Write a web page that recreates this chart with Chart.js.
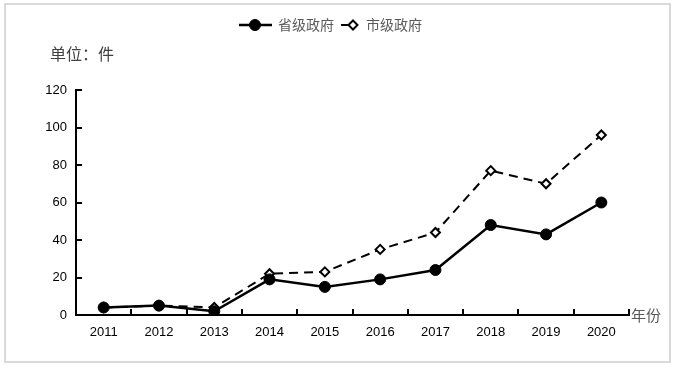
<!DOCTYPE html>
<html>
<head>
<meta charset="utf-8">
<script src="https://cdn.jsdelivr.net/npm/chart.js@4.4.0/dist/chart.umd.min.js"></script>
<style>
body { margin: 0; background: #fff; }
#wrap { position: relative; width: 696px; height: 370px; }
#frame { position: absolute; left: 4px; top: 3px; width: 663px; height: 356px; border: 2px solid #d9d9d9; }
#c { position: absolute; left: 0; top: 0; }
.note { position: absolute; font-family: "Noto Sans CJK SC", sans-serif; white-space: nowrap; }
#unit { left: 50px; top: 41px; font-size: 16px; color: #404040; }
#xname { left: 631px; top: 304px; font-size: 15px; color: #595959; }
</style>
</head>
<body>
<div id="wrap">
  <div id="frame"></div>
  <canvas id="c" width="696" height="370"></canvas>
  <div class="note" id="unit">单位：件</div>
  <div class="note" id="xname">年份</div>
</div>
<script>
// data
var years = ['2011', '2012', '2013', '2014', '2015', '2016', '2017', '2018', '2019', '2020'];
var provincial = [4, 5, 2, 19, 15, 19, 24, 48, 43, 60];
var municipal = [4, 5, 4, 22, 23, 35, 44, 77, 70, 96];
var seriesNames = ['省级政府', '市级政府'];
var yMin = 0, yMax = 120, yStep = 20;

// tick marks pointing into the plot
var tickMarks = {
  id: 'tickMarks',
  afterDraw: function(chart) {
    var ctx = chart.ctx, x = chart.scales.x, y = chart.scales.y;
    ctx.save();
    ctx.strokeStyle = '#000';
    ctx.lineWidth = 2;
    ctx.beginPath();
    y.ticks.forEach(function(t) {
      var py = Math.round(y.getPixelForValue(t.value));
      ctx.moveTo(y.right, py);
      ctx.lineTo(y.right + 6, py);
    });
    var n = years.length, w = (x.right - x.left) / n;
    for (var i = 1; i <= n; i++) {
      var px = Math.round(x.left + i * w);
      ctx.moveTo(px, x.top);
      ctx.lineTo(px, x.top - 6);
    }
    ctx.stroke();
    ctx.restore();
  }
};

// legend: line sample with marker, then name
var lineLegend = {
  id: 'lineLegend',
  afterDraw: function(chart) {
    var ctx = chart.ctx;
    var spots = [{x: 239, len: 33, tx: 278}, {x: 341, len: 22, tx: 366}];
    var cy = 25;
    ctx.save();
    chart.data.datasets.forEach(function(ds, i) {
      var s = spots[i];
      ctx.strokeStyle = '#000';
      ctx.lineWidth = ds.borderWidth;
      ctx.setLineDash(i === 0 ? [] : [7, 16]);
      ctx.beginPath();
      ctx.moveTo(s.x, cy);
      ctx.lineTo(s.x + s.len, cy);
      ctx.stroke();
      ctx.setLineDash([]);
      ctx.fillStyle = ds.pointBackgroundColor;
      ctx.strokeStyle = '#000';
      ctx.lineWidth = ds.pointBorderWidth;
      Chart.helpers.drawPoint(ctx, {pointStyle: ds.pointStyle, radius: ds.pointRadius, borderWidth: ds.pointBorderWidth, rotation: 0},
        s.x + (i === 0 ? 16 : 12), cy);
      ctx.fillStyle = '#595959';
      ctx.font = '14px "Noto Sans CJK SC"';
      ctx.textBaseline = 'middle';
      ctx.fillText(ds.label, s.tx, cy);
    });
    ctx.restore();
  }
};

var ctx = document.getElementById('c');
var myChart = new Chart(ctx, {
  type: 'line',
  data: {
    labels: years,
    datasets: [
      {
        label: seriesNames[0],
        data: provincial,
        borderColor: '#000',
        borderWidth: 2.5,
        pointStyle: 'circle',
        pointRadius: 5.5,
        pointBackgroundColor: '#000',
        pointBorderColor: '#000',
        pointBorderWidth: 1,
        fill: false,
        tension: 0
      },
      {
        label: seriesNames[1],
        data: municipal,
        borderColor: '#000',
        borderWidth: 2,
        borderDash: [9, 6],
        pointStyle: 'rectRot',
        pointRadius: 4.5,
        pointBackgroundColor: '#fff',
        pointBorderColor: '#000',
        pointBorderWidth: 2,
        fill: false,
        tension: 0
      }
    ]
  },
  options: {
    responsive: false,
    animation: false,
    layout: { padding: { top: 90, right: 67, left: 0, bottom: 0 } },
    plugins: { legend: { display: false }, tooltip: { enabled: false } },
    scales: {
      x: {
        type: 'category',
        offset: true,
        grid: { display: false, drawTicks: false },
        border: { display: true, color: '#000', width: 2 },
        ticks: { color: '#000', padding: 10, font: { family: 'Liberation Sans', size: 13 }, maxRotation: 0 },
        afterFit: function(s) { s.height = 55; }
      },
      y: {
        min: yMin,
        max: yMax,
        grid: { display: false, drawTicks: false },
        border: { display: true, color: '#000', width: 2 },
        ticks: { stepSize: yStep, color: '#000', padding: 9, font: { family: 'Liberation Sans', size: 13 } },
        afterFit: function(s) { s.width = 76; }
      }
    }
  },
  plugins: [tickMarks, lineLegend]
});
</script>
</body>
</html>
